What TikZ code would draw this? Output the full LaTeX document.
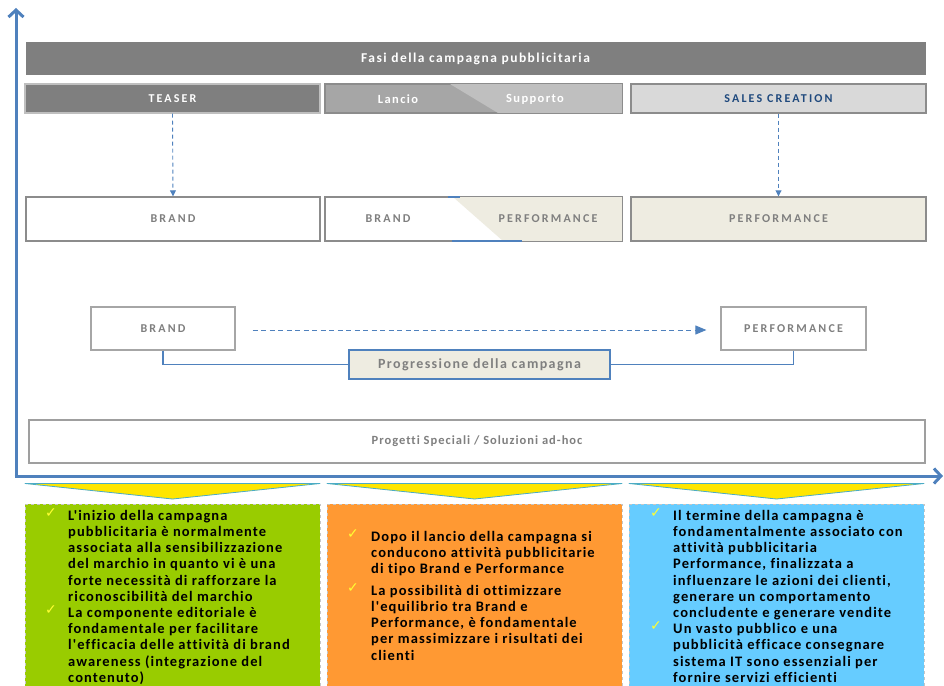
\documentclass[tikz,border=0pt]{standalone}
\usepackage{fontspec}
\setmainfont{Carlito}[Ligatures=NoCommon]
\newfontfamily\plainfont{Carlito}[Ligatures=NoCommon]
\newfontfamily\checkfont{DejaVu Sans}
\usetikzlibrary{arrows.meta,calc}

\definecolor{axisblue}{HTML}{4F81BD}
\definecolor{headgray}{HTML}{7F7F7F}
\definecolor{midgray}{HTML}{A6A6A6}
\definecolor{lightgray2}{HTML}{BFBFBF}
\definecolor{palegray}{HTML}{D9D9D9}
\definecolor{bordergray}{HTML}{8C8C8C}
\definecolor{cream}{HTML}{EEECE1}
\definecolor{navytext}{HTML}{1F497D}
\definecolor{greenbox}{HTML}{99CC00}
\definecolor{orangebox}{HTML}{FF9933}
\definecolor{bluebox}{HTML}{66CCFF}
\definecolor{tickyellow}{HTML}{FFFF33}
\definecolor{triyellow}{HTML}{FFE600}
\definecolor{triedge}{HTML}{4BACC6}

\tikzset{
  capsfont/.style={font=\plainfont\bfseries\fontsize{12}{13}\selectfont\addfontfeature{LetterSpace=18}},
  phasebox/.style={draw=bordergray, line width=1.2pt, inner sep=0pt},
  kindbox/.style={draw=bordergray, line width=1.4pt, inner sep=0pt, fill=white,
    text=headgray, capsfont},
  flowdash/.style={draw=axisblue, line width=0.9pt, dash pattern=on 4pt off 3pt,
    -{Triangle[length=6pt,width=6pt]}},
  bodytext/.style={anchor=north west, inner sep=0pt, align=left, text=black,
    font=\plainfont\bfseries\fontsize{14.5}{16.2}\selectfont\addfontfeature{LetterSpace=7.5}},
  tick/.style={inner sep=0pt, text=tickyellow, font=\checkfont\fontsize{14}{14}\selectfont},
  notebox/.style={draw=gray!45, dashed, line width=0.8pt},
  downtri/.style={fill=triyellow, draw=triedge, line width=0.8pt, line join=round},
}

\begin{document}
\begin{tikzpicture}[x=1pt,y=-1pt]
\useasboundingbox (0,0) rectangle (944,685);

% axes
\draw[axisblue, line width=3pt, -{Straight Barb[length=7pt,width=15pt]}] (16,477.5) -- (16,8);
\draw[axisblue, line width=3pt, -{Straight Barb[length=7pt,width=15pt]}] (14.5,476) -- (943,476);

% title bar and phases
\node[fill=headgray, draw=white, line width=1pt, minimum width=901pt, minimum height=33pt,
  inner sep=0pt, text=white, font=\plainfont\bfseries\fontsize{13.5}{14}\selectfont\addfontfeature{LetterSpace=11}]
  (title) at (475.5,58.5) {Fasi della campagna pubblicitaria};

\node[phasebox, draw=lightgray2, fill=headgray, minimum width=295pt, minimum height=29pt,
  text=white, capsfont] (teaser) at (172.5,98.5) {TEASER};

\node[phasebox, fill=midgray, minimum width=297pt, minimum height=29pt] (launch) at (473.5,98.5) {};
\fill[lightgray2] (450,84) -- (622,84) -- (622,113) -- (498,113) -- cycle;
\draw[bordergray, line width=1.2pt] (launch.north west) rectangle (launch.south east);
\node[text=white, font=\plainfont\bfseries\fontsize{12.5}{13}\selectfont\addfontfeature{LetterSpace=11}] (lancio) at (398,99) {Lancio};
\node[text=white, font=\plainfont\bfseries\fontsize{12.5}{13}\selectfont\addfontfeature{LetterSpace=11}] (supporto) at (535,99) {Supporto};

\node[phasebox, fill=palegray, minimum width=295pt, minimum height=29pt,
  text=navytext, capsfont] (sales) at (778.5,98.5) {SALES CREATION};

% advertising type per phase
\node[kindbox, minimum width=294pt, minimum height=44pt] (brandA) at (173,219) {BRAND};
\node[kindbox, minimum width=297pt, minimum height=44pt] (mixed) at (473.5,219) {};
\fill[cream] (453,197) -- (622,197) -- (622,241) -- (503,241) -- cycle;
\draw[bordergray, line width=1.4pt] (mixed.north west) rectangle (mixed.south east);
\draw[axisblue, line width=1.2pt] (448,197) -- (460,197);
\draw[axisblue, line width=1.2pt] (452,241) -- (522,241);
\node[text=headgray, capsfont] (mixbrand) at (388,219) {BRAND};
\node[text=headgray, capsfont] (mixperf) at (548,219) {PERFORMANCE};
\node[kindbox, fill=cream, minimum width=295pt, minimum height=44pt] (perfA) at (778.5,219) {PERFORMANCE};

\draw[flowdash] (teaser.south) -- (brandA.north);
\draw[flowdash] (sales.south) -- (perfA.north);

% campaign progression
\node[kindbox, draw=gray!70, line width=1.2pt, minimum width=144pt, minimum height=43pt] (brandB) at (163,328.5) {BRAND};
\node[kindbox, draw=gray!70, line width=1.2pt, minimum width=145pt, minimum height=43pt] (perfB) at (793.5,328.5) {PERFORMANCE};
\draw[axisblue, line width=0.9pt, dash pattern=on 5pt off 3.5pt, -{Triangle[length=11pt,width=9pt]}]
  ($(brandB.east)+(17,1.5)$) -- ($(perfB.west)+(-14,1.5)$);
\node[draw=axisblue, line width=1.4pt, fill=cream, minimum width=261pt, minimum height=29pt,
  inner sep=0pt, text=headgray, font=\plainfont\bfseries\fontsize{14}{14}\selectfont\addfontfeature{LetterSpace=10}]
  (prog) at (479.5,364.5) {Progressione della campagna};
\draw[axisblue, line width=1.1pt] (brandB.south) |- (prog.west);
\draw[axisblue, line width=1.1pt] (perfB.south) |- (prog.east);

% special projects
\node[draw=gray!75, line width=1.2pt, fill=white, minimum width=896pt, minimum height=43pt,
  inner sep=0pt, text=headgray, font=\plainfont\bfseries\fontsize{12.5}{13}\selectfont\addfontfeature{LetterSpace=8}]
  (special) at (477,441.5) {Progetti Speciali / Soluzioni ad-hoc};

% pointers into the notes
\draw[downtri] (25,483.5) -- (320,483.5) -- (172.5,499) -- cycle;
\draw[downtri] (327,483.5) -- (622,483.5) -- (474.5,499) -- cycle;
\draw[downtri] (629,483.5) -- (924,483.5) -- (776.5,499) -- cycle;

% notes
\fill[greenbox] (25,504) rectangle (320,690);
\draw[notebox] (25,690) |- (320,504) -- (320,690);
\fill[orangebox] (327,504) rectangle (622,690);
\draw[notebox] (327,690) |- (622,504) -- (622,690);
\fill[bluebox] (629,504) rectangle (924,690);
\draw[notebox] (629,690) |- (924,504) -- (924,690);

\node[tick] (g1) at (51,513) {✓};
\node[tick] (g2) at (51,610) {✓};
\node[bodytext] (gtext) at (68,510) {L'inizio della campagna\\pubblicitaria è normalmente\\associata alla sensibilizzazione\\del marchio in quanto vi è una\\forte necessità di rafforzare la\\riconoscibilità del marchio\\La componente editoriale è\\fondamentale per facilitare\\l'efficacia delle attività di brand\\awareness (integrazione del\\contenuto)};

\node[tick] (o1) at (353,534) {✓};
\node[tick] (o2) at (353,588) {✓};
\node[bodytext] (otext1) at (371,531) {Dopo il lancio della campagna si\\conducono attività pubblicitarie\\di tipo Brand e Performance};
\node[bodytext] (otext2) at (371,585) {La possibilità di ottimizzare\\l'equilibrio tra Brand e\\Performance, è fondamentale\\per massimizzare i risultati dei\\clienti};

\node[tick] (b1) at (656,513) {✓};
\node[tick] (b2) at (656,626) {✓};
\node[bodytext] (btext) at (673,510) {Il termine della campagna è\\fondamentalmente associato con\\attività pubblicitaria\\Performance, finalizzata a\\influenzare le azioni dei clienti,\\generare un comportamento\\concludente e generare vendite\\Un vasto pubblico e una\\pubblicità efficace consegnare\\sistema IT sono essenziali per\\fornire servizi efficienti};
\end{tikzpicture}
\end{document}
